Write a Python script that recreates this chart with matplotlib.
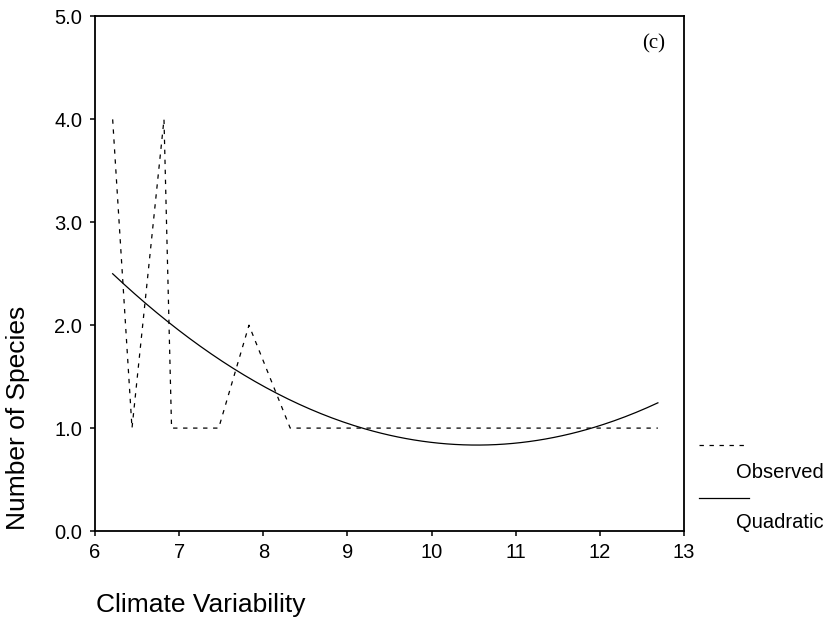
import matplotlib
matplotlib.use("Agg")
import matplotlib.pyplot as plt
import numpy as np
from matplotlib.lines import Line2D

plt.rcParams["font.family"] = ["Liberation Sans", "DejaVu Sans"]

# observed species counts along climate variability
obs_x = [6.21, 6.44, 6.82, 6.91, 7.47, 7.83, 8.32, 12.69]
obs_y = [4.0, 1.0, 4.0, 1.0, 1.0, 2.0, 1.0, 1.0]

# quadratic fit: y = b0 + b1*x + b2*x^2
quad_coef = [10.70, -1.8719, 0.0888]
quad_range = [6.21, 12.69]

x_ticks = [6, 7, 8, 9, 10, 11, 12, 13]
y_ticks = [0.0, 1.0, 2.0, 3.0, 4.0, 5.0]

fig = plt.figure(figsize=(8.34, 6.22), dpi=100)
ax = fig.add_axes([0.1139, 0.1463, 0.7062, 0.8272])

dash = (3.5, 4.5)
ax.plot(obs_x, obs_y, color="black", lw=0.9, dashes=dash)

xq = np.linspace(quad_range[0], quad_range[1], 200)
yq = quad_coef[0] + quad_coef[1] * xq + quad_coef[2] * xq ** 2
ax.plot(xq, yq, color="black", lw=0.9)

ax.set_xlim(6, 13)
ax.set_ylim(0, 5)
ax.set_xticks(x_ticks)
ax.set_xticklabels([str(t) for t in x_ticks])
ax.set_yticks(y_ticks)
ax.set_yticklabels([f"{t:.1f}" for t in y_ticks])
ax.tick_params(direction="out", length=3.6, width=1.1, labelsize=14.5, color="black")
ax.tick_params(axis="y", pad=5.5)
ax.tick_params(axis="x", pad=5)
for sp in ax.spines.values():
    sp.set_linewidth(1.3)

fig.text(654 / 834, 1 - 44 / 622, "(c)", fontsize=15,
         family=["Liberation Serif", "DejaVu Serif"], ha="center", va="center")

# axis titles
fig.text(96 / 834, 1 - 605 / 622, "Climate Variability", fontsize=19,
         ha="left", va="center")
fig.text(18 / 834, 1 - 418 / 622, "Number of Species", fontsize=19,
         rotation=90, ha="center", va="center")

# legend drawn by hand: line above, label below
fig.add_artist(Line2D([699 / 834, 749 / 834], [1 - 445 / 622, 1 - 445 / 622],
                      color="black", lw=0.9, dashes=dash))
fig.text(736 / 834, 1 - 472 / 622, "Observed", fontsize=14.5, ha="left", va="center")
fig.add_artist(Line2D([699 / 834, 749 / 834], [1 - 498 / 622, 1 - 498 / 622],
                      color="black", lw=0.9))
fig.text(736 / 834, 1 - 523 / 622, "Quadratic", fontsize=14.5, ha="left", va="center")

fig.savefig("out.png", dpi=100)
